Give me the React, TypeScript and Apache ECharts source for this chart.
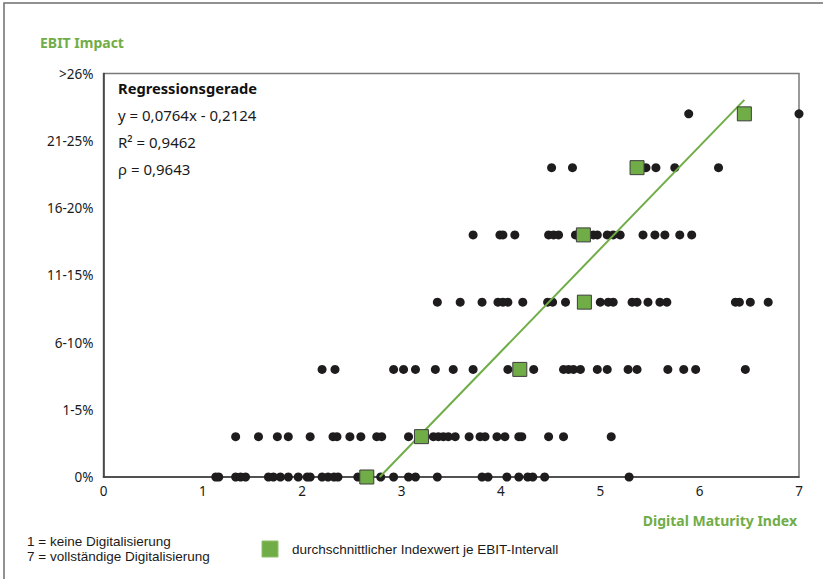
import React, { useEffect, useRef } from "react";
import * as echarts from "echarts";

const yLabels = ["0%", "1-5%", "6-10%", "11-15%", "16-20%", "21-25%", ">26%"];
const rowLevels = [0, 0.03, 0.08, 0.13, 0.18, 0.23, 0.27];

const row0 = [1.13, 1.16, 1.33, 1.38, 1.43, 1.66, 1.71, 1.78, 1.86, 1.96, 2.05, 2.08, 2.2, 2.26, 2.32, 2.36, 2.56, 2.62, 2.79, 2.92, 3.07, 3.14, 3.36, 3.81, 3.87, 4.06, 4.18, 4.27, 4.32, 4.44, 5.29];
const row1 = [1.33, 1.56, 1.75, 1.86, 2.08, 2.31, 2.35, 2.48, 2.59, 2.75, 2.8, 3.07, 3.32, 3.37, 3.42, 3.47, 3.54, 3.68, 3.79, 3.84, 3.96, 4.04, 4.18, 4.21, 4.48, 4.63, 5.11];
const row2 = [2.2, 2.33, 2.92, 3.02, 3.14, 3.34, 3.52, 3.72, 4.07, 4.33, 4.63, 4.68, 4.73, 4.8, 4.97, 5.07, 5.28, 5.37, 5.68, 5.84, 5.96, 6.46];
const row3 = [3.36, 3.59, 3.81, 3.97, 4.02, 4.07, 4.22, 4.47, 4.52, 4.65, 5.0, 5.08, 5.13, 5.32, 5.37, 5.48, 5.6, 5.67, 6.36, 6.4, 6.51, 6.69];
const row4 = [3.72, 3.99, 4.02, 4.14, 4.48, 4.53, 4.58, 4.75, 4.93, 4.97, 5.07, 5.13, 5.2, 5.43, 5.55, 5.65, 5.8, 5.92];
const row5 = [4.51, 4.72, 5.46, 5.56, 5.75, 6.19];
const row6 = [5.89, 7.0];
const rows = [row0, row1, row2, row3, row4, row5, row6];

const meanIndex = [2.65, 3.2, 4.19, 4.84, 4.83, 5.37, 6.45];

const regLine = [
  [2.78, 0],
  [6.45, 0.2804],
];

const statsLines = ["y = 0,0764x - 0,2124", "R² = 0,9462", "ρ = 0,9643"];

const GREEN = "#70ad47";
const FONT = "'Noto Sans', sans-serif";
const NARROW = "'Liberation Sans Narrow', 'Liberation Sans', sans-serif";

export default function App() {
  const ref = useRef<HTMLDivElement>(null);
  useEffect(() => {
    if (!ref.current) return;
    const chart = echarts.init(ref.current, null, { renderer: "svg" });
    const dots: number[][] = [];
    rows.forEach((r, i) => r.forEach((x) => dots.push([x, rowLevels[i]])));
    const means = meanIndex.map((x, i) => [x, rowLevels[i]]);
    chart.setOption({
      animation: false,
      backgroundColor: "#fff",
      grid: {
        left: 103.5,
        right: 24,
        top: 73.5,
        bottom: 102,
        show: true,
        borderColor: "#7a7a7a",
        borderWidth: 1.5,
      },
      xAxis: {
        type: "value",
        min: 0,
        max: 7,
        interval: 1,
        splitLine: { show: false },
        axisTick: { show: false },
        axisLine: { show: true, onZero: false, lineStyle: { color: "#3a3a3a", width: 1.5 } },
        axisLabel: { color: "#1a1a1a", fontSize: 13.5, fontFamily: FONT, margin: 7 },
      },
      yAxis: {
        type: "value",
        min: 0,
        max: 0.3,
        interval: 0.05,
        splitLine: { show: false },
        axisTick: { show: false },
        axisLine: { show: true, lineStyle: { color: "#3a3a3a", width: 1.5 } },
        axisLabel: {
          color: "#1a1a1a",
          fontSize: 13.5,
          fontFamily: FONT,
          margin: 10,
          formatter: (v: number) => yLabels[Math.round(v / 0.05)] ?? "",
        },
      },
      series: [
        {
          type: "scatter",
          data: dots,
          symbol: "circle",
          symbolSize: 9,
          itemStyle: { color: "#1f1c1d", opacity: 1 },
          z: 2,
        },
        {
          type: "line",
          data: regLine,
          symbol: "none",
          lineStyle: { color: GREEN, width: 2 },
          z: 3,
        },
        {
          type: "scatter",
          data: means,
          symbol: "rect",
          symbolSize: 14,
          itemStyle: { color: GREEN, borderColor: "#3d3d3d", borderWidth: 1, opacity: 1 },
          z: 4,
        },
      ],
      graphic: [
        {
          type: "rect",
          shape: { x: 4, y: 3, width: 900, height: 700 },
          style: { fill: "none", stroke: "#6e6e6e", lineWidth: 1.5 },
          silent: true,
        },
        {
          type: "text",
          x: 40,
          y: 42,
          style: { text: "EBIT Impact", fill: GREEN, font: `bold 14px ${FONT}`, verticalAlign: "middle" },
        },
        {
          type: "text",
          x: 797,
          y: 520,
          style: { text: "Digital Maturity Index", fill: GREEN, font: `bold 14px ${FONT}`, align: "right", verticalAlign: "middle" },
        },
        {
          type: "text",
          x: 118,
          y: 88,
          style: { text: "Regressionsgerade", fill: "#111", font: `bold 14.7px ${FONT}`, verticalAlign: "middle" },
        },
        ...statsLines.map((t, i) => ({
          type: "text",
          x: 118,
          y: 115 + i * 27,
          style: { text: t, fill: "#1a1a1a", font: `15px ${FONT}`, verticalAlign: "middle" },
        })),
        {
          type: "text",
          x: 27,
          y: 541,
          style: { text: "1 = keine Digitalisierung", fill: "#1a1a1a", font: `13.5px ${NARROW}`, verticalAlign: "middle" },
        },
        {
          type: "text",
          x: 27,
          y: 556,
          style: { text: "7 = vollständige Digitalisierung", fill: "#1a1a1a", font: `13.5px ${NARROW}`, verticalAlign: "middle" },
        },
        {
          type: "rect",
          shape: { x: 262, y: 541, width: 16, height: 16 },
          style: { fill: GREEN, stroke: "#8cc06a", lineWidth: 1 },
        },
        {
          type: "text",
          x: 292,
          y: 549,
          style: { text: "durchschnittlicher Indexwert je EBIT-Intervall", fill: "#1a1a1a", font: `13.5px ${NARROW}`, verticalAlign: "middle" },
        },
      ],
    });
    return () => chart.dispose();
  }, []);
  return (
    <div
      ref={ref}
      style={{ position: "absolute", left: 0, top: 0, width: 823, height: 579 }}
    />
  );
}
